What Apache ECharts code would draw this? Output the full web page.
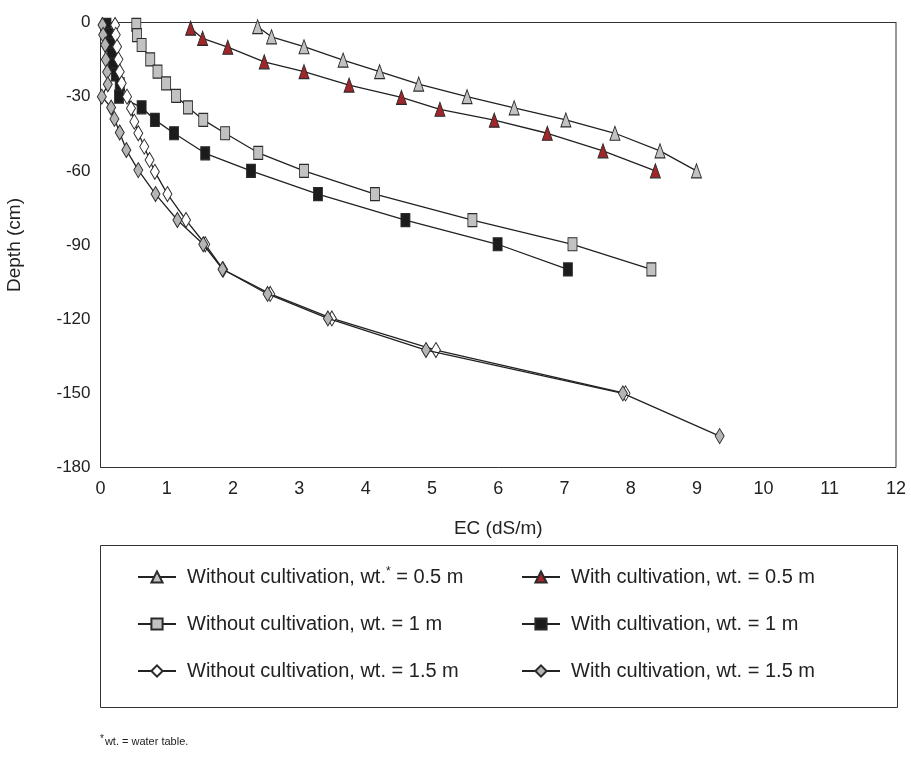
<!DOCTYPE html>
<html>
<head>
    <meta charset="utf-8">
    <script src="https://cdn.jsdelivr.net/npm/echarts@6/dist/echarts.min.js"></script>
</head>
<body style="margin:0">
    <div id="main" style="width: 911px;height:757px"></div>

    <script type="text/javascript">
        // EC (dS/m) and depth (cm) for each profile
        var ecNoCult05 = [2.37, 2.58, 3.07, 3.66, 4.21, 4.80, 5.53, 6.24, 7.02, 7.76, 8.44, 8.99];
        var depthNoCult05 = [-1.7, -5.8, -9.8, -15.2, -19.9, -24.9, -30.0, -34.5, -39.4, -44.8, -51.9, -60.0];

        var ecCult05 = [1.36, 1.54, 1.92, 2.47, 3.07, 3.75, 4.54, 5.12, 5.94, 6.74, 7.58, 8.37];
        var depthCult05 = [-2.3, -6.4, -10.0, -15.9, -19.9, -25.3, -30.3, -35.1, -39.5, -44.8, -51.9, -60.0];

        var ecNoCult10 = [0.54, 0.55, 0.62, 0.75, 0.86, 0.99, 1.14, 1.32, 1.55, 1.88, 2.38, 3.07, 4.14, 5.61, 7.12, 8.31];
        var depthNoCult10 = [-1.0, -5.1, -9.1, -14.9, -19.9, -24.6, -29.7, -34.3, -39.4, -44.8, -52.7, -60.0, -69.4, -79.9, -89.7, -99.9];

        var ecCult10 = [0.09, 0.12, 0.15, 0.17, 0.19, 0.23, 0.29, 0.28, 0.62, 0.82, 1.11, 1.58, 2.27, 3.28, 4.60, 5.99, 7.05];
        var depthCult10 = [-1.0, -5.0, -9.0, -13.0, -17.0, -21.0, -25.0, -30.0, -34.3, -39.4, -44.8, -52.9, -60.0, -69.4, -79.9, -89.7, -99.9];

        var ecNoCult15 = [0.22, 0.23, 0.25, 0.27, 0.29, 0.32, 0.40, 0.46, 0.51, 0.57, 0.66, 0.74, 0.82, 1.01, 1.29, 1.58, 1.85, 2.56, 3.49, 5.06, 7.92];
        var depthNoCult15 = [-1.0, -5.0, -9.8, -14.9, -19.9, -24.6, -30.0, -34.7, -40.1, -44.8, -50.2, -55.6, -60.4, -69.4, -79.9, -89.7, -99.9, -109.8, -119.7, -132.5, -150.0];

        var ecCult15 = [0.03, 0.04, 0.07, 0.08, 0.10, 0.11, 0.02, 0.16, 0.21, 0.29, 0.39, 0.57, 0.83, 1.16, 1.55, 1.84, 2.52, 3.43, 4.91, 7.88, 9.34];
        var depthCult15 = [-1.0, -5.0, -9.0, -15.0, -20.0, -25.0, -30.0, -34.4, -39.0, -44.5, -51.6, -59.7, -69.4, -79.9, -89.7, -99.8, -109.8, -119.7, -132.5, -150.0, -167.3];

        var names = [
            'Without cultivation, wt. = 0.5 m',
            'With cultivation, wt. = 0.5 m',
            'Without cultivation, wt. = 1 m',
            'With cultivation, wt. = 1 m',
            'Without cultivation, wt. = 1.5 m',
            'With cultivation, wt. = 1.5 m'
        ];

        var FONT = "'Liberation Sans', Arial, sans-serif";

        function pairs(xs, ys) {
            var out = [];
            for (var i = 0; i < xs.length; i++) out.push([xs[i], ys[i]]);
            return out;
        }

        function mkSeries(name, xs, ys, symbol, size, fill, z) {
            return {
                name: name,
                type: 'line',
                data: pairs(xs, ys),
                symbol: symbol,
                symbolSize: size,
                showSymbol: true,
                z: z,
                lineStyle: { color: '#222', width: 1.3 },
                itemStyle: { color: fill, borderColor: '#2a2a2a', borderWidth: 1 },
                emphasis: { disabled: true },
                animation: false
            };
        }

        var legendCommon = {
            orient: 'vertical',
            top: 560,
            itemWidth: 38,
            itemHeight: 14,
            itemGap: 23,
            selectedMode: false,
            textStyle: {
                fontFamily: FONT, fontSize: 20, color: '#222', lineHeight: 24,
                padding: [0, 0, 0, 6],
                rich: {
                    s: { fontFamily: FONT, fontSize: 12, color: '#222', padding: [0, 0, 10, 0] }
                }
            },
            formatter: function (n) {
                if (n === names[0]) return 'Without cultivation, wt.{s|*} = 0.5 m';
                return n;
            }
        };

        var myChart = echarts.init(document.getElementById('main'));
        var option = {
            backgroundColor: '#fff',
            animation: false,
            grid: {
                left: 100.5, right: 15, top: 22.5, bottom: 289.5,
                outerBoundsMode: 'none',
                show: true, borderColor: '#333', borderWidth: 1
            },
            xAxis: {
                type: 'value', min: 0, max: 12, interval: 1,
                name: 'EC (dS/m)', nameLocation: 'middle', nameGap: 52,
                nameTextStyle: { fontFamily: FONT, fontSize: 19, color: '#222' },
                axisLine: { lineStyle: { color: '#333', width: 1 } },
                axisTick: { show: false },
                splitLine: { show: false },
                axisLabel: { fontFamily: FONT, fontSize: 18, color: '#222', margin: 13 }
            },
            yAxis: {
                type: 'value', min: -180, max: 0, interval: 30,
                name: 'Depth (cm)', nameLocation: 'middle', nameGap: 76,
                nameTextStyle: { fontFamily: FONT, fontSize: 19, color: '#222' },
                axisLine: { show: true, lineStyle: { color: '#333', width: 1 } },
                axisTick: { show: false },
                splitLine: { show: false },
                axisLabel: { fontFamily: FONT, fontSize: 17, color: '#222', margin: 10, padding: [0, 0, 8, 0] }
            },
            legend: [
                Object.assign({}, legendCommon, { left: 132, data: [names[0], names[2], names[4]] }),
                Object.assign({}, legendCommon, { left: 516, data: [names[1], names[3], names[5]] })
            ],
            graphic: [
                {
                    type: 'rect', left: 98, top: 543,
                    shape: { width: 797, height: 162 },
                    style: { fill: 'none', stroke: '#333', lineWidth: 1 }
                },
                {
                    type: 'text', left: 100, top: 734,
                    style: {
                        text: '{s|*}wt. = water table.',
                        font: "11px " + FONT, fill: '#222',
                        rich: { s: { fontSize: 10, fill: '#222', padding: [0, 1, 5, 0] } }
                    }
                }
            ],
            series: [
                mkSeries(names[0], ecNoCult05, depthNoCult05, 'triangle', [10, 14], '#c2c2c2', 2),
                mkSeries(names[1], ecCult05, depthCult05, 'triangle', [10, 14], '#a1262b', 2),
                mkSeries(names[2], ecNoCult10, depthNoCult10, 'rect', [9, 13], '#c2c2c2', 2),
                mkSeries(names[3], ecCult10, depthCult10, 'rect', [9, 13], '#1c1c1c', 2),
                mkSeries(names[4], ecNoCult15, depthNoCult15, 'diamond', [9, 15], '#ffffff', 2),
                mkSeries(names[5], ecCult15, depthCult15, 'diamond', [9, 15], '#b5b5b5', 3)
            ]
        };

        myChart.setOption(option);
    </script>
</body>
</html>
